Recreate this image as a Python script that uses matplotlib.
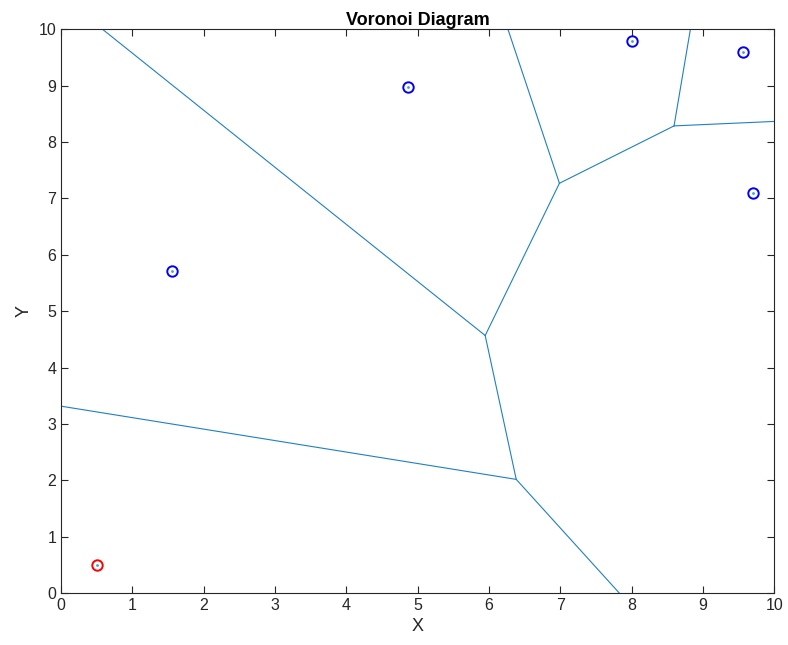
import numpy as np
import matplotlib
matplotlib.use("Agg")
import matplotlib.pyplot as plt

# Generator sites (the first one is highlighted in red)
site_x = [0.5, 1.56, 4.86, 8.00, 9.57, 9.71]
site_y = [0.5, 5.71, 8.97, 9.80, 9.59, 7.10]
highlight_index = 0

x_ticks = list(range(0, 11))
y_ticks = list(range(0, 11))

plt.rcParams['font.family'] = ['Liberation Sans', 'DejaVu Sans']

pts = np.column_stack([site_x, site_y])


def voronoi_edges(p, span=1000.0, eps=1e-9):
    """Return Voronoi edges as segments by clipping each pairwise bisector
    with the half-planes of all the other sites."""
    segs = []
    n = len(p)
    for i in range(n):
        for j in range(i + 1, n):
            pi, pj = p[i], p[j]
            m = 0.5 * (pi + pj)
            v = pj - pi
            d = np.array([-v[1], v[0]]) / np.hypot(*v)
            lo, hi = -span, span
            for k in range(n):
                if k in (i, j):
                    continue
                pk = p[k]
                w = pk - pi
                rhs = pk @ pk - pi @ pi - 2 * (m @ w)
                a = 2 * (d @ w)
                if abs(a) < eps:
                    if rhs < 0:
                        lo, hi = 1, 0
                    continue
                t = rhs / a
                if a > 0:
                    hi = min(hi, t)
                else:
                    lo = max(lo, t)
            if lo < hi - eps:
                segs.append((m + lo * d, m + hi * d))
    return segs


fig = plt.figure(figsize=(7.88, 6.45), dpi=100)
ax = fig.add_axes([0.0774, 0.0806, 0.905, 0.874])

edge_color = '#1f80c4'
for a, b in voronoi_edges(pts):
    ax.plot([a[0], b[0]], [a[1], b[1]], color=edge_color, lw=0.8)

ax.plot(pts[:, 0], pts[:, 1], '.', color='#4a9fd6', ms=2)
mask = np.arange(len(pts)) != highlight_index
ax.plot(pts[mask, 0], pts[mask, 1], 'o', mfc='none', mec='#0000FF', ms=7.5, mew=1.4)
ax.plot(pts[highlight_index, 0], pts[highlight_index, 1], 'o', mfc='none',
        mec='#FF0000', ms=7.5, mew=1.4)

ax.set_xlim(0, 10)
ax.set_ylim(0, 10)
ax.set_xticks(x_ticks)
ax.set_yticks(y_ticks)
ax.tick_params(direction='in', top=True, right=True, length=5, width=0.8,
               labelsize=11.5, colors='#262626')
for s in ax.spines.values():
    s.set_color('#262626')
    s.set_linewidth(0.8)
ax.set_xlabel('X', fontsize=13, color='#262626')
ax.set_ylabel('Y', fontsize=13, color='#262626')
ax.set_title('Voronoi Diagram', fontsize=13, fontweight='bold', pad=3)

fig.savefig('out.png', dpi=100)
